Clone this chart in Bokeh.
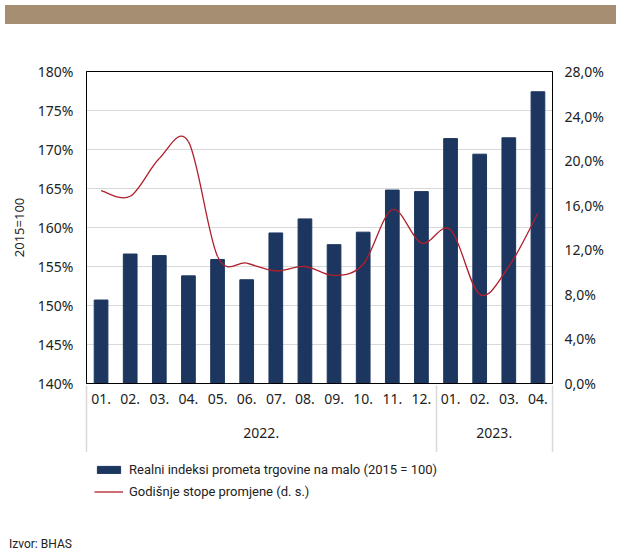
from bokeh.plotting import figure
from bokeh.models import (Range1d, LinearAxis, Legend, LegendItem, Div, FixedTicker,
                          ColumnDataSource)
from bokeh.layouts import column
from bokeh.embed import file_html
from bokeh.resources import INLINE

# ---- data ----
years = ["2022."] * 12 + ["2023."] * 4
months = ["01.", "02.", "03.", "04.", "05.", "06.", "07.", "08.", "09.", "10.", "11.", "12.",
          "01.", "02.", "03.", "04."]
index_values = [150.7, 156.6, 156.4, 153.8, 155.9, 153.3, 159.3, 161.1, 157.8, 159.4, 164.8, 164.6,
                171.4, 169.4, 171.5, 177.4]
growth_rates = [17.3, 16.8, 20.2, 21.7, 11.4, 10.8, 10.1, 10.5, 9.7, 10.7, 15.6, 12.6,
                13.8, 8.0, 10.5, 15.3]
left_ticks = [140, 145, 150, 155, 160, 165, 170, 175, 180]
left_tick_labels = ["140%", "145%", "150%", "155%", "160%", "165%", "170%", "175%", "180%"]
right_ticks = [0, 4, 8, 12, 16, 20, 24, 28]
right_tick_labels = ["0,0%", "4,0%", "8,0%", "12,0%", "16,0%", "20,0%", "24,0%", "28,0%"]
bar_label = "Realni indeksi prometa trgovine na malo (2015 = 100)"
line_label = "Godišnje stope promjene (d. s.)"
y_axis_title = "2015=100"
source_text = "Izvor: BHAS"

BAR_COLOR = "#1c365f"
LINE_COLOR = "#b01f2b"
TEXT_COLOR = "#222222"
GRID_COLOR = "#d9d9d9"
AXIS_FONT = "Noto Sans"
COND_FONT = "Roboto"

n = len(months)
positions = [i + 0.5 for i in range(n)]          # category slot centres
unique_years = list(dict.fromkeys(years))
year_centers, boundaries = [], [0]
for yv in unique_years:
    idx = [i for i, yy in enumerate(years) if yy == yv]
    year_centers.append((idx[0] + idx[-1] + 1) / 2)
    boundaries.append(idx[-1] + 1)

p = figure(frame_width=466, frame_height=312, x_range=Range1d(0, n), y_range=Range1d(140, 180),
           output_backend="svg", toolbar_location=None, align="start",
           min_border_left=86, min_border_right=0, min_border_top=42, min_border_bottom=0)
p.extra_y_ranges = {"right": Range1d(0, 28)}

src = ColumnDataSource(dict(x=positions, top=index_values))
bars = p.vbar(x="x", top="top", bottom=140, width=0.47, source=src,
              fill_color=BAR_COLOR, line_color=BAR_COLOR)

# smoothed line (Excel-like) as cubic bezier segments through the data points
x0, y0, x1, y1, cx0, cy0, cx1, cy1 = [], [], [], [], [], [], [], []
for i in range(n - 1):
    pm = max(i - 1, 0)
    pn = min(i + 2, n - 1)
    x0.append(positions[i]); y0.append(growth_rates[i])
    x1.append(positions[i + 1]); y1.append(growth_rates[i + 1])
    cx0.append(positions[i] + (positions[i + 1] - positions[pm]) / 6)
    cy0.append(growth_rates[i] + (growth_rates[i + 1] - growth_rates[pm]) / 6)
    cx1.append(positions[i + 1] - (positions[pn] - positions[i]) / 6)
    cy1.append(growth_rates[i + 1] - (growth_rates[pn] - growth_rates[i]) / 6)
curve = p.bezier(x0=x0, y0=y0, x1=x1, y1=y1, cx0=cx0, cy0=cy0, cx1=cx1, cy1=cy1,
                 line_color=LINE_COLOR, line_width=1.3, y_range_name="right")

p.outline_line_color = "black"
p.outline_line_width = 1


def style_axis(ax, standoff):
    ax.major_tick_line_color = None
    ax.minor_tick_line_color = None
    ax.major_tick_out = 0
    ax.major_tick_in = 0
    ax.minor_tick_out = 0
    ax.minor_tick_in = 0
    ax.major_label_standoff = standoff
    ax.major_label_text_font = AXIS_FONT
    ax.major_label_text_font_size = "14px"
    ax.major_label_text_color = TEXT_COLOR


# left axis
yl = p.yaxis[0]
yl.ticker = FixedTicker(ticks=left_ticks)
yl.major_label_overrides = dict(zip(left_ticks, left_tick_labels))
style_axis(yl, 13)
yl.axis_line_color = "black"
yl.axis_label = y_axis_title
yl.axis_label_text_font = AXIS_FONT
yl.axis_label_text_font_size = "13px"
yl.axis_label_text_font_style = "normal"
yl.axis_label_text_color = TEXT_COLOR
yl.axis_label_standoff = 7

# right axis
yr = LinearAxis(y_range_name="right", ticker=FixedTicker(ticks=right_ticks))
yr.major_label_overrides = dict(zip(right_ticks, right_tick_labels))
style_axis(yr, 12)
yr.axis_line_color = "black"
p.add_layout(yr, "right")

# month axis
xa = p.xaxis[0]
xa.ticker = FixedTicker(ticks=positions)
xa.major_label_overrides = dict(zip(positions, months))
style_axis(xa, 10)
xa.axis_line_color = "black"

# year axis
xy = LinearAxis(ticker=FixedTicker(ticks=year_centers))
xy.major_label_overrides = dict(zip(year_centers, unique_years))
style_axis(xy, 21)
xy.axis_line_color = None
p.add_layout(xy, "below")

# separators between year groups (ticks pointing back up towards the plot)
xs = LinearAxis(ticker=FixedTicker(ticks=[], minor_ticks=boundaries))
xs.major_tick_line_color = None
xs.major_tick_out = 0
xs.major_tick_in = 0
xs.minor_tick_line_color = GRID_COLOR
xs.minor_tick_line_width = 1.5
xs.minor_tick_in = 55
xs.minor_tick_out = 12
xs.axis_line_color = None
xs.major_label_text_font_size = "0px"
p.add_layout(xs, "below")

p.xgrid.grid_line_color = None
p.ygrid.ticker = FixedTicker(ticks=left_ticks)
p.ygrid.grid_line_color = GRID_COLOR
p.ygrid.grid_line_width = 1

# ---- legend (own small strip below the chart) ----
pl = figure(width=611, height=51, x_range=Range1d(0, 1), y_range=Range1d(0, 1),
            x_axis_type=None, y_axis_type=None, output_backend="svg",
            toolbar_location=None, align="start", min_border=0)
pl.outline_line_color = None
leg_bar = pl.vbar(x="x", top="top", width=0.47, source=src, visible=False,
                  fill_color=BAR_COLOR, line_color=BAR_COLOR)
leg_line = pl.line(x=positions, y=growth_rates, visible=False,
                   line_color=LINE_COLOR, line_width=1.3)
legend = Legend(items=[LegendItem(label=bar_label, renderers=[leg_bar]),
                       LegendItem(label=line_label, renderers=[leg_line])],
                location=(8, 2), padding=0, margin=0, spacing=2,
                glyph_width=29, glyph_height=9, label_height=20, label_standoff=6,
                label_text_font=COND_FONT, label_text_font_size="13px",
                label_text_color=TEXT_COLOR, border_line_color=None,
                background_fill_alpha=0, inactive_fill_alpha=0)
pl.add_layout(legend, "center")

banner = Div(width=611, height=19, align="start", styles={"background-color": "#a58e72"})
footer = Div(text=('<div style="height:44px;display:flex;align-items:flex-end;'
                   'padding-left:4px;font-family:Roboto;font-size:12px;color:#222222;'
                   'line-height:16px">' + source_text + '</div>'),
             width=611, height=44, align="start")

layout = column(banner, p, pl, footer, spacing=0)
open("out.html", "w").write(file_html(layout, INLINE))
